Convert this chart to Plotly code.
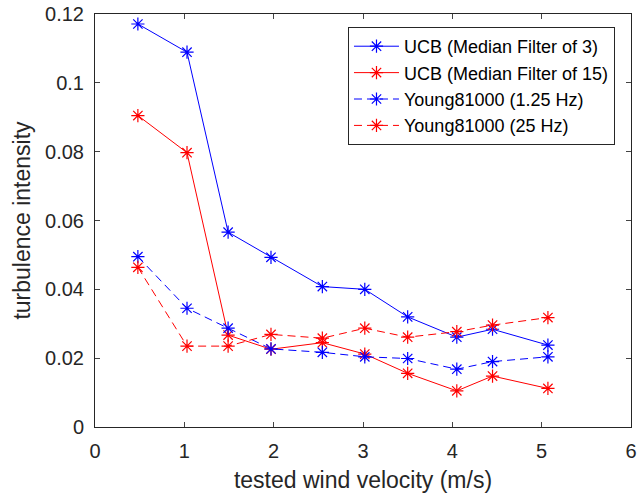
import plotly.graph_objects as go

velocity = [0.48, 1.03, 1.49, 1.97, 2.545, 3.02, 3.50, 4.05, 4.45, 5.07]
ucb_mf3 = [0.1171, 0.1089, 0.0566, 0.0493, 0.0408, 0.0400, 0.0320, 0.0261, 0.0284, 0.0238]
ucb_mf15 = [0.0905, 0.0797, 0.0267, 0.0226, 0.0245, 0.0212, 0.0156, 0.0105, 0.0148, 0.0112]
young_125 = [0.0495, 0.0345, 0.0287, 0.0227, 0.0217, 0.0204, 0.0199, 0.0168, 0.0190, 0.0204]
young_25 = [0.0464, 0.0235, 0.0235, 0.0269, 0.0258, 0.0287, 0.0261, 0.0277, 0.0296, 0.0318]

x_ticks = [0, 1, 2, 3, 4, 5, 6]
y_ticks = [0, 0.02, 0.04, 0.06, 0.08, 0.1, 0.12]
y_tick_text = ["0", "0.02", "0.04", "0.06", "0.08", "0.1", "0.12"]

series = [
    ("UCB (Median Filter of 3)", ucb_mf3, "#0000FF", "solid"),
    ("UCB (Median Filter of 15)", ucb_mf15, "#FF0000", "solid"),
    ("Young81000 (1.25 Hz)", young_125, "#0000FF", "8px,5px"),
    ("Young81000 (25 Hz)", young_25, "#FF0000", "8px,5px"),
]

fig = go.Figure()
for name, vals, color, dash in series:
    fig.add_trace(go.Scatter(
        x=velocity, y=vals, name=name, mode="lines+markers",
        line=dict(color=color, width=1, dash=dash),
        marker=dict(symbol="asterisk-open", size=11, color=color,
                    line=dict(color=color, width=1.2)),
    ))

axis_color = "#262626"
fig.update_layout(
    width=638, height=498,
    margin=dict(l=95, r=7, t=14, b=71, autoexpand=False),
    paper_bgcolor="white", plot_bgcolor="white",
    font=dict(family="Liberation Sans, Arial, sans-serif", color=axis_color),
    showlegend=True,
    legend=dict(
        x=0.472, y=0.9685, xanchor="left", yanchor="top",
        bgcolor="white", bordercolor=axis_color, borderwidth=1,
        font=dict(size=18, color="black"),
        itemwidth=45, tracegroupgap=0,
    ),
    xaxis=dict(
        range=[0, 6], tickvals=x_ticks, ticks="inside", ticklen=5,
        showline=True, linecolor=axis_color, linewidth=1, mirror="ticks",
        showgrid=False, zeroline=False, tickfont=dict(size=20),
        ticklabelstandoff=6,
        title=dict(text="tested wind velocity (m/s)", font=dict(size=23), standoff=10),
    ),
    yaxis=dict(
        range=[0, 0.12], tickvals=y_ticks, ticktext=y_tick_text, ticks="inside", ticklen=5,
        showline=True, linecolor=axis_color, linewidth=1, mirror="ticks",
        showgrid=False, zeroline=False, tickfont=dict(size=20),
        ticklabelstandoff=6,
        title=dict(text="turbulence intensity", font=dict(size=23), standoff=8),
    ),
)

fig.write_html(
    "out.html",
    config={"displayModeBar": False},
    post_script="document.body.style.margin='0';document.body.style.overflow='hidden';",
)
